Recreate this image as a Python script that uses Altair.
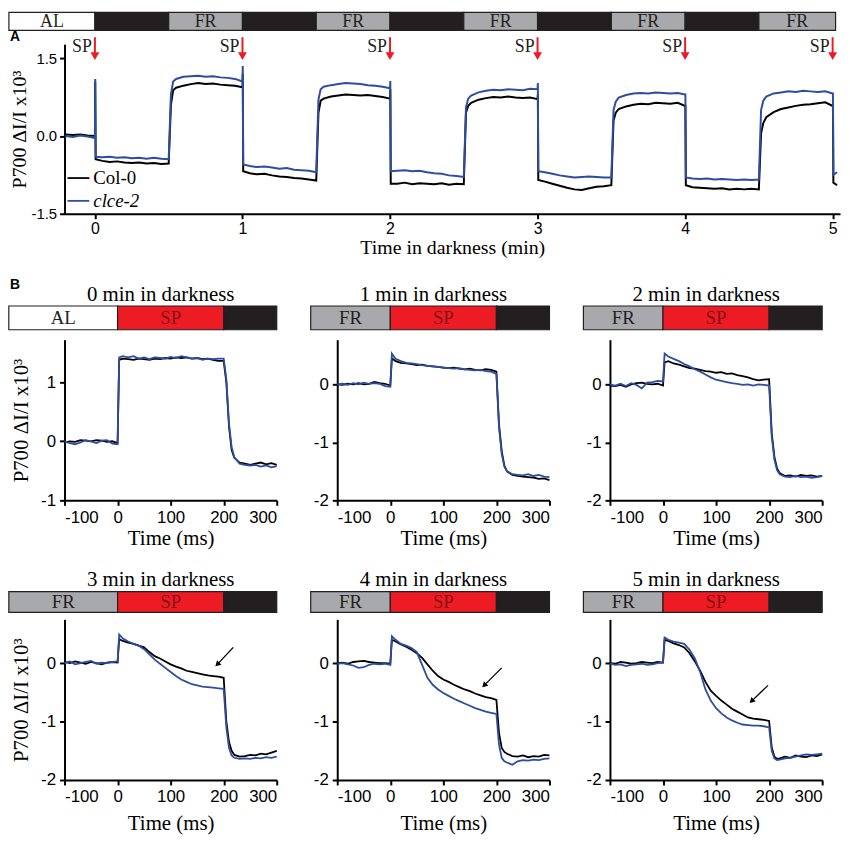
import altair as alt
import pandas as pd

SERIF = "Liberation Serif"
SANS = "Liberation Sans"
BLACK = "#000000"
BLUE = "#2e4da0"
DARK = "#231f20"
GRAY = "#a7a9ac"
RED = "#ed1c24"
SP_TEXT = "#8a1014"

# ---------------- Panel A data ----------------
a_time = [
    -0.20, -0.15, -0.10, -0.05, 0.000, 0.002, 0.005,
    0.05, 0.10, 0.15, 0.20, 0.25, 0.30, 0.35, 0.40, 0.45, 0.50,
    0.515, 0.53, 0.55, 0.60, 0.65, 0.70, 0.75, 0.80, 0.85, 0.90, 0.95, 1.000, 1.002, 1.005,
    1.05, 1.10, 1.15, 1.20, 1.25, 1.30, 1.35, 1.40, 1.45, 1.50,
    1.515, 1.53, 1.55, 1.60, 1.65, 1.70, 1.75, 1.80, 1.85, 1.90, 1.95, 2.000, 2.002, 2.005,
    2.05, 2.10, 2.15, 2.20, 2.25, 2.30, 2.35, 2.40, 2.45, 2.50,
    2.515, 2.53, 2.55, 2.60, 2.65, 2.70, 2.75, 2.80, 2.85, 2.90, 2.95, 3.000, 3.002, 3.005,
    3.05, 3.10, 3.15, 3.20, 3.25, 3.30, 3.35, 3.40, 3.45, 3.50,
    3.515, 3.53, 3.55, 3.60, 3.65, 3.70, 3.75, 3.80, 3.85, 3.90, 3.95, 4.000, 4.002, 4.005,
    4.05, 4.10, 4.15, 4.20, 4.25, 4.30, 4.35, 4.40, 4.45, 4.50,
    4.515, 4.53, 4.55, 4.60, 4.65, 4.70, 4.75, 4.80, 4.85, 4.90, 4.95, 5.000, 5.002, 5.005,
    5.03,
]
a_col0 = [
    0.03, 0.02, 0.03, 0.01, 0.00, 1.05, -0.45,
    -0.48, -0.50, -0.49, -0.51, -0.52, -0.51, -0.53, -0.52, -0.54, -0.53,
    0.60, 0.88, 0.93, 0.97, 1.00, 1.02, 1.00, 1.01, 0.99, 0.98, 0.97, 0.94, 1.20, -0.68,
    -0.72, -0.74, -0.73, -0.76, -0.78, -0.79, -0.81, -0.82, -0.84, -0.86,
    0.45, 0.68, 0.72, 0.76, 0.78, 0.80, 0.79, 0.78, 0.79, 0.77, 0.75, 0.72, 0.90, -0.92,
    -0.92, -0.90, -0.93, -0.91, -0.92, -0.93, -0.91, -0.94, -0.92, -0.93,
    0.45, 0.58, 0.64, 0.70, 0.73, 0.75, 0.74, 0.76, 0.74, 0.73, 0.74, 0.71, 0.80, -0.85,
    -0.88, -0.92, -0.96, -1.00, -1.03, -1.04, -1.01, -0.98, -0.97, -0.95,
    0.30, 0.45, 0.52, 0.57, 0.60, 0.62, 0.61, 0.64, 0.63, 0.62, 0.64, 0.58, 0.58, -0.95,
    -0.99, -1.00, -1.01, -1.02, -1.01, -1.03, -1.02, -1.03, -1.02, -1.03,
    0.05, 0.25, 0.36, 0.46, 0.52, 0.55, 0.58, 0.60, 0.61, 0.63, 0.65, 0.58, 0.58, -0.90,
    -0.95,
]
a_clce2 = [
    0.00, -0.02, 0.01, -0.01, -0.04, 1.10, -0.40,
    -0.41, -0.40, -0.42, -0.41, -0.43, -0.42, -0.44, -0.42, -0.44, -0.45,
    0.80, 1.05, 1.10, 1.14, 1.15, 1.16, 1.14, 1.15, 1.13, 1.12, 1.10, 1.05, 1.35, -0.55,
    -0.58, -0.60, -0.59, -0.61, -0.63, -0.62, -0.65, -0.66, -0.67, -0.70,
    0.70, 0.90, 0.95, 0.98, 1.00, 1.02, 1.01, 1.00, 0.98, 0.97, 0.95, 0.92, 1.06, -0.68,
    -0.67, -0.66, -0.68, -0.67, -0.70, -0.72, -0.73, -0.76, -0.77, -0.79,
    0.55, 0.72, 0.78, 0.84, 0.87, 0.89, 0.88, 0.90, 0.89, 0.88, 0.91, 0.90, 1.02, -0.68,
    -0.70, -0.73, -0.76, -0.78, -0.80, -0.79, -0.78, -0.79, -0.80, -0.80,
    0.50, 0.66, 0.74, 0.79, 0.82, 0.83, 0.82, 0.84, 0.83, 0.82, 0.83, 0.80, 0.80, -0.80,
    -0.82, -0.83, -0.82, -0.84, -0.83, -0.84, -0.85, -0.84, -0.85, -0.84,
    0.50, 0.68, 0.76, 0.82, 0.84, 0.86, 0.85, 0.87, 0.86, 0.85, 0.86, 0.82, 0.82, -0.75,
    -0.70,
]
assert len(a_time) == len(a_col0) == len(a_clce2)

a_phase_start = [-0.583, 0.0, 0.5, 1.0, 1.5, 2.0, 2.5, 3.0, 3.5, 4.0, 4.5]
a_phase_end = [0.0, 0.5, 1.0, 1.5, 2.0, 2.5, 3.0, 3.5, 4.0, 4.5, 5.02]
a_phase_kind = ["AL", "dark", "FR", "dark", "FR", "dark", "FR", "dark", "FR", "dark", "FR"]
a_sp_times = [0, 1, 2, 3, 4, 5]
a_xticks = [0, 1, 2, 3, 4, 5]
a_yticks = [-1.5, 0.0, 1.5]

# ---------------- Panel B data ----------------
b_time = [-100, -90, -80, -70, -60, -50, -40, -30, -20, -10, 0, 3,
          10, 20, 30, 40, 50, 60, 70, 80, 90, 100, 110, 120, 130, 140, 150, 160, 170, 180, 190, 200,
          205, 210, 215, 220, 230, 240, 250, 260, 270, 280, 290, 300]

b0_col0 = [-0.02, 0.00, -0.01, 0.02, 0.01, 0.00, 0.02, 0.01, -0.01, 0.00, -0.03, 1.38,
           1.40, 1.39, 1.38, 1.40, 1.39, 1.38, 1.40, 1.39, 1.41, 1.40, 1.42, 1.41, 1.42, 1.40, 1.41, 1.39, 1.40, 1.38, 1.36, 1.36,
           1.00, 0.25, -0.15, -0.28, -0.36, -0.38, -0.40, -0.38, -0.36, -0.39, -0.37, -0.40]
b0_clce2 = [0.00, -0.03, -0.05, -0.02, 0.02, 0.00, -0.03, 0.01, 0.02, -0.04, -0.05, 1.42,
            1.44, 1.42, 1.44, 1.40, 1.42, 1.39, 1.42, 1.41, 1.40, 1.43, 1.41, 1.44, 1.42, 1.40, 1.41, 1.38, 1.40, 1.39, 1.40, 1.40,
            1.05, 0.30, -0.10, -0.27, -0.38, -0.40, -0.41, -0.40, -0.43, -0.41, -0.44, -0.42]

b1_col0 = [0.00, -0.01, 0.01, 0.00, 0.02, 0.00, 0.01, 0.04, 0.02, 0.01, -0.02, 0.45,
           0.40, 0.37, 0.36, 0.35, 0.33, 0.34, 0.32, 0.31, 0.30, 0.29, 0.28, 0.29, 0.27, 0.26, 0.27, 0.25, 0.24, 0.26, 0.25, 0.22,
           -0.70, -1.15, -1.40, -1.50, -1.56, -1.58, -1.59, -1.60, -1.61, -1.63, -1.62, -1.65]
b1_clce2 = [0.00, 0.01, -0.01, 0.02, 0.00, 0.03, 0.01, 0.02, 0.01, -0.03, -0.04, 0.53,
            0.44, 0.40, 0.37, 0.36, 0.35, 0.33, 0.32, 0.31, 0.30, 0.29, 0.28, 0.27, 0.28, 0.26, 0.25, 0.24, 0.25, 0.23, 0.22, 0.18,
            -0.75, -1.20, -1.42, -1.50, -1.55, -1.56, -1.57, -1.55, -1.58, -1.56, -1.59, -1.60]

b2_col0 = [-0.02, -0.03, -0.01, -0.04, 0.00, 0.02, 0.03, 0.01, 0.00, 0.01, -0.02, 0.38,
           0.40, 0.36, 0.34, 0.31, 0.28, 0.27, 0.25, 0.23, 0.22, 0.20, 0.21, 0.18, 0.19, 0.16, 0.14, 0.12, 0.09, 0.07, 0.08, 0.09,
           -0.85, -1.25, -1.45, -1.53, -1.58, -1.57, -1.59, -1.56, -1.58, -1.57, -1.59, -1.58]
b2_clce2 = [0.00, -0.02, 0.01, -0.03, 0.02, -0.01, -0.07, 0.03, 0.04, 0.06, 0.05, 0.53,
            0.48, 0.44, 0.40, 0.35, 0.31, 0.26, 0.22, 0.17, 0.12, 0.08, 0.06, 0.04, 0.02, 0.01, -0.01, 0.00, -0.02, 0.00, -0.01, -0.02,
            -0.90, -1.30, -1.48, -1.55, -1.59, -1.60, -1.58, -1.60, -1.59, -1.61, -1.60, -1.58]

b3_col0 = [0.02, 0.00, 0.03, 0.01, -0.01, 0.02, 0.00, -0.02, 0.01, 0.02, 0.01, 0.41,
           0.38, 0.35, 0.33, 0.30, 0.27, 0.19, 0.12, 0.08, 0.03, -0.02, -0.06, -0.09, -0.13, -0.15, -0.17, -0.19, -0.21, -0.22, -0.23, -0.25,
           -1.00, -1.35, -1.50, -1.57, -1.60, -1.59, -1.57, -1.58, -1.55, -1.56, -1.53, -1.50]
b3_clce2 = [0.00, 0.03, -0.02, 0.00, 0.02, 0.04, -0.01, 0.01, 0.00, 0.02, 0.03, 0.49,
            0.42, 0.37, 0.33, 0.30, 0.24, 0.15, 0.06, -0.01, -0.08, -0.15, -0.22, -0.28, -0.32, -0.36, -0.38, -0.40, -0.41, -0.42, -0.43, -0.44,
            -1.10, -1.45, -1.58, -1.62, -1.64, -1.63, -1.64, -1.62, -1.63, -1.61, -1.62, -1.60]

b4_col0 = [0.00, 0.01, -0.01, 0.02, 0.03, 0.04, 0.02, 0.01, 0.00, 0.00, -0.01, 0.40,
           0.37, 0.32, 0.28, 0.23, 0.17, 0.09, -0.02, -0.13, -0.22, -0.28, -0.32, -0.37, -0.41, -0.45, -0.48, -0.52, -0.55, -0.58, -0.60, -0.63,
           -1.20, -1.45, -1.52, -1.55, -1.59, -1.60, -1.58, -1.61, -1.59, -1.60, -1.57, -1.58]
b4_clce2 = [-0.01, 0.00, -0.02, -0.04, -0.08, -0.07, -0.03, -0.01, -0.02, -0.01, -0.03, 0.46,
            0.40, 0.33, 0.30, 0.26, 0.19, -0.03, -0.25, -0.37, -0.45, -0.51, -0.56, -0.61, -0.65, -0.69, -0.73, -0.77, -0.80, -0.83, -0.85, -0.87,
            -1.40, -1.62, -1.68, -1.70, -1.74, -1.68, -1.66, -1.67, -1.65, -1.66, -1.64, -1.63]

b5_col0 = [0.00, -0.01, 0.02, 0.01, -0.01, 0.00, 0.02, 0.01, 0.00, 0.02, 0.01, 0.40,
           0.38, 0.34, 0.31, 0.27, 0.17, 0.03, -0.13, -0.32, -0.47, -0.56, -0.64, -0.71, -0.78, -0.83, -0.88, -0.93, -0.95, -0.96, -0.97, -0.99,
           -1.45, -1.60, -1.64, -1.63, -1.60, -1.62, -1.58, -1.60, -1.61, -1.58, -1.59, -1.56]
b5_clce2 = [-0.01, -0.03, -0.02, -0.05, -0.03, -0.02, -0.01, -0.03, -0.02, 0.00, 0.01, 0.44,
            0.40, 0.37, 0.35, 0.33, 0.23, 0.08, -0.15, -0.45, -0.64, -0.77, -0.86, -0.93, -0.98, -1.02, -1.05, -1.06, -1.07, -1.07, -1.08, -1.10,
            -1.50, -1.63, -1.66, -1.65, -1.63, -1.62, -1.60, -1.58, -1.56, -1.57, -1.56, -1.55]

for s in [b0_col0, b0_clce2, b1_col0, b1_clce2, b2_col0, b2_clce2,
          b3_col0, b3_clce2, b4_col0, b4_clce2, b5_col0, b5_clce2]:
    assert len(s) == len(b_time)

b_titles = ["0 min in darkness", "1 min in darkness", "2 min in darkness",
            "3 min in darkness", "4 min in darkness", "5 min in darkness"]
b_first_phase = ["AL", "FR", "FR", "FR", "FR", "FR"]
b_bar_left = [-205, -150, -150, -205, -150, -150]
b_phase_start = [0, 200]
b_phase_end = [200, 300]
b_xticks = [-100, 0, 100, 200, 300]

# arrows (panels 3, 4, 5): start and tip
b_arrow_t = [218, 210, 198]
b_arrow_v = [0.27, -0.08, -0.38]
b_arrow_t2 = [188, 177, 167]
b_arrow_v2 = [-0.02, -0.38, -0.65]

YTITLE = "P700 \u0394I/I x10\u00b3"
phase_scale = alt.Scale(domain=["AL", "dark", "FR", "SP"],
                        range=["#ffffff", DARK, GRAY, RED])
neg_fmt1 = "(datum.value < 0 ? '-' : '') + format(abs(datum.value), '.1f')"
neg_fmt0 = "(datum.value < 0 ? '-' : '') + format(abs(datum.value), 'd')"


def text_df(s):
    return pd.DataFrame({"label": [s]})


# ---------------- Panel A chart ----------------
A_W, A_H = 782, 171
xA_scale = alt.Scale(domain=[-0.206, 5.05], nice=False, zero=False)
yA_scale = alt.Scale(domain=[-1.5, 1.77], nice=False, zero=False)
xA_axis = alt.Axis(values=a_xticks, labelExpr=neg_fmt0, title="Time in darkness (min)",
                   labelFontSize=16, titleFontSize=20, labelPadding=2, titlePadding=1)
yA_axis = alt.Axis(values=a_yticks, labelExpr=neg_fmt1, title=YTITLE,
                   labelFontSize=15, titleFontSize=20, labelPadding=3, titlePadding=1)

dfA0 = pd.DataFrame({"t": a_time, "v": a_col0})
dfA1 = pd.DataFrame({"t": a_time, "v": a_clce2})
lineA0 = alt.Chart(dfA0).mark_line(color=BLACK, strokeWidth=2).encode(
    x=alt.X("t:Q", scale=xA_scale, axis=xA_axis),
    y=alt.Y("v:Q", scale=yA_scale, axis=yA_axis))
lineA1 = alt.Chart(dfA1).mark_line(color=BLUE, strokeWidth=2).encode(
    x=alt.X("t:Q", scale=xA_scale, axis=xA_axis),
    y=alt.Y("v:Q", scale=yA_scale, axis=yA_axis))

dfAph = pd.DataFrame({"t": a_phase_start, "t2": a_phase_end, "kind": a_phase_kind})
dfAph["label"] = [k if k != "dark" else "" for k in a_phase_kind]
dfAph["mid"] = (dfAph["t"] + dfAph["t2"]) / 2
barA = alt.Chart(dfAph).mark_rect(stroke=DARK, strokeWidth=1.2).encode(
    x=alt.X("t:Q", scale=xA_scale, axis=xA_axis), x2="t2:Q",
    y=alt.value(-32), y2=alt.value(-14),
    color=alt.Color("kind:N", scale=phase_scale, legend=None))
barAtxt = alt.Chart(dfAph).mark_text(font=SERIF, fontSize=18, color=DARK,
                                    baseline="middle", align="center").encode(
    x=alt.X("mid:Q", scale=xA_scale, axis=xA_axis),
    y=alt.value(-22), text="label:N")

dfSP = pd.DataFrame({"t": a_sp_times, "label": ["SP"] * len(a_sp_times)})
spShaft = alt.Chart(dfSP).mark_rule(color=RED, strokeWidth=2).encode(
    x=alt.X("t:Q", scale=xA_scale, axis=xA_axis), y=alt.value(-7), y2=alt.value(10))
spHead = alt.Chart(dfSP).mark_point(shape="triangle-down", filled=True, size=80,
                                    color=RED, opacity=1).encode(
    x=alt.X("t:Q", scale=xA_scale, axis=xA_axis), y=alt.value(12))
spText = alt.Chart(dfSP).mark_text(font=SERIF, fontSize=18, color=DARK, align="right",
                                   baseline="alphabetic", dx=-3).encode(
    x=alt.X("t:Q", scale=xA_scale, axis=xA_axis), y=alt.value(8), text="label:N")

legLine0 = alt.Chart(text_df("Col-0")).mark_rule(color=BLACK, strokeWidth=1.8).encode(
    x=alt.value(3), x2=alt.value(25), y=alt.value(135))
legLine1 = alt.Chart(text_df("clce-2")).mark_rule(color=BLUE, strokeWidth=1.8).encode(
    x=alt.value(3), x2=alt.value(25), y=alt.value(158))
legText0 = alt.Chart(text_df("Col-0")).mark_text(font=SERIF, fontSize=19, color=BLACK,
                                                align="left", baseline="middle").encode(
    x=alt.value(29), y=alt.value(135), text="label:N")
legText1 = alt.Chart(text_df("clce-2")).mark_text(font=SERIF, fontSize=19, color=BLACK,
                                                 fontStyle="italic", align="left",
                                                 baseline="middle").encode(
    x=alt.value(29), y=alt.value(158), text="label:N")
labelA = alt.Chart(text_df("A")).mark_text(font=SANS, fontSize=14, fontWeight="bold",
                                          color=BLACK, align="left", baseline="middle").encode(
    x=alt.value(-55), y=alt.value(-7), text="label:N")

chartA = alt.layer(barA, barAtxt, spShaft, spHead, spText, lineA0, lineA1,
                   legLine0, legLine1, legText0, legText1, labelA).properties(
    width=A_W, height=A_H)


# ---------------- Panel B charts ----------------
B_W, B_H = 214, 162
series_b = [(b0_col0, b0_clce2), (b1_col0, b1_clce2), (b2_col0, b2_clce2),
            (b3_col0, b3_clce2), (b4_col0, b4_clce2), (b5_col0, b5_clce2)]


def b_panel(i):
    row = 0 if i < 3 else 1
    col0, clce2 = series_b[i]
    if i == 0:
        ydom, yticks = [-1.0, 1.72], [-1, 0, 1]
    elif row == 0:
        ydom, yticks = [-2.0, 0.77], [-2, -1, 0]
    else:
        ydom, yticks = [-2.0, 0.75], [-2, -1, 0]
    xs = alt.Scale(domain=[-100, 300], nice=False, zero=False)
    ys = alt.Scale(domain=ydom, nice=False, zero=False)
    xaxis = alt.Axis(values=b_xticks, labelExpr=neg_fmt0, title="Time (ms)",
                     labelFontSize=17, titleFontSize=21, labelPadding=4,
                     titlePadding=3 if row == 0 else 8)
    yaxis = alt.Axis(values=yticks, labelExpr=neg_fmt0,
                     title=YTITLE if i % 3 == 0 else None,
                     labelFontSize=17, titleFontSize=21, labelPadding=4,
                     titlePadding=9)
    X = alt.X("t:Q", scale=xs, axis=xaxis)
    Y = alt.Y("v:Q", scale=ys, axis=yaxis)

    d0 = pd.DataFrame({"t": b_time, "v": col0})
    d1 = pd.DataFrame({"t": b_time, "v": clce2})
    l0 = alt.Chart(d0).mark_line(color=BLACK, strokeWidth=1.8).encode(x=X, y=Y)
    l1 = alt.Chart(d1).mark_line(color=BLUE, strokeWidth=1.8).encode(x=X, y=Y)

    ph = pd.DataFrame({"t": [b_bar_left[i]] + b_phase_start,
                       "t2": [0] + b_phase_end,
                       "kind": [b_first_phase[i], "SP", "dark"]})
    ph["mid"] = (ph["t"] + ph["t2"]) / 2
    ytop, ybot = (-34, -10) if row == 0 else (-28, -7)
    bar = alt.Chart(ph).mark_rect(stroke=DARK, strokeWidth=1.2).encode(
        x=X, x2="t2:Q", y=alt.value(ytop), y2=alt.value(ybot),
        color=alt.Color("kind:N", scale=phase_scale, legend=None))
    first_txt = alt.Chart(ph.iloc[[0]]).mark_text(
        font=SERIF, fontSize=19, baseline="middle", align="center", color=DARK).encode(
        x=alt.X("mid:Q", scale=xs, axis=xaxis), y=alt.value((ytop + ybot) / 2),
        text="kind:N")
    sp_txt = alt.Chart(ph.iloc[[1]]).mark_text(
        font=SERIF, fontSize=19, baseline="middle", align="center", color=SP_TEXT).encode(
        x=alt.X("mid:Q", scale=xs, axis=xaxis), y=alt.value((ytop + ybot) / 2),
        text="kind:N")
    title = alt.Chart(text_df(b_titles[i])).mark_text(
        font=SERIF, fontSize=21, color=BLACK, align="center", baseline="middle").encode(
        x=alt.value(97), y=alt.value(-45 if row == 0 else -40), text="label:N")
    layers = [bar, first_txt, sp_txt, title, l0, l1]
    if i >= 3:
        k = i - 3
        ad = pd.DataFrame({"t": [b_arrow_t[k]], "v": [b_arrow_v[k]],
                           "t2": [b_arrow_t2[k]], "v2": [b_arrow_v2[k]]})
        shaft = alt.Chart(ad).mark_rule(color=BLACK, strokeWidth=1.3).encode(
            x=X, y=Y, x2="t2:Q", y2="v2:Q")
        head = alt.Chart(ad).mark_point(shape="triangle-up", angle=225, filled=True,
                                        size=40, color=BLACK, opacity=1).encode(
            x=alt.X("t2:Q", scale=xs, axis=xaxis), y=alt.Y("v2:Q", scale=ys, axis=yaxis))
        layers += [shaft, head]
    if i == 0:
        layers.append(alt.Chart(text_df("B")).mark_text(
            font=SANS, fontSize=14, fontWeight="bold", color=BLACK, align="left",
            baseline="middle").encode(x=alt.value(-55), y=alt.value(-55), text="label:N"))
    return alt.layer(*layers).properties(width=B_W, height=B_H)


rowB1 = alt.hconcat(b_panel(0), b_panel(1), b_panel(2), spacing=61, bounds="flush")
rowB2 = alt.hconcat(b_panel(3), b_panel(4), b_panel(5), spacing=61, bounds="flush")
# with flush bounds a nested row group counts as zero height, so the
# spacing here is the full distance between the two rows' plot tops
lower = alt.vconcat(rowB1, rowB2, spacing=282, bounds="flush")

chart = alt.vconcat(chartA, lower, spacing=127, bounds="flush").properties(
    padding=0
).configure_view(stroke=None).configure_axis(
    domainColor="black", domainWidth=2, tickColor="black", tickWidth=2, tickSize=5,
    grid=False, labelFont=SANS, labelColor="black", titleFont=SERIF,
    titleFontWeight="normal", titleColor="black"
)

chart.save("out.html", embed_options={"renderer": "svg", "actions": False})
